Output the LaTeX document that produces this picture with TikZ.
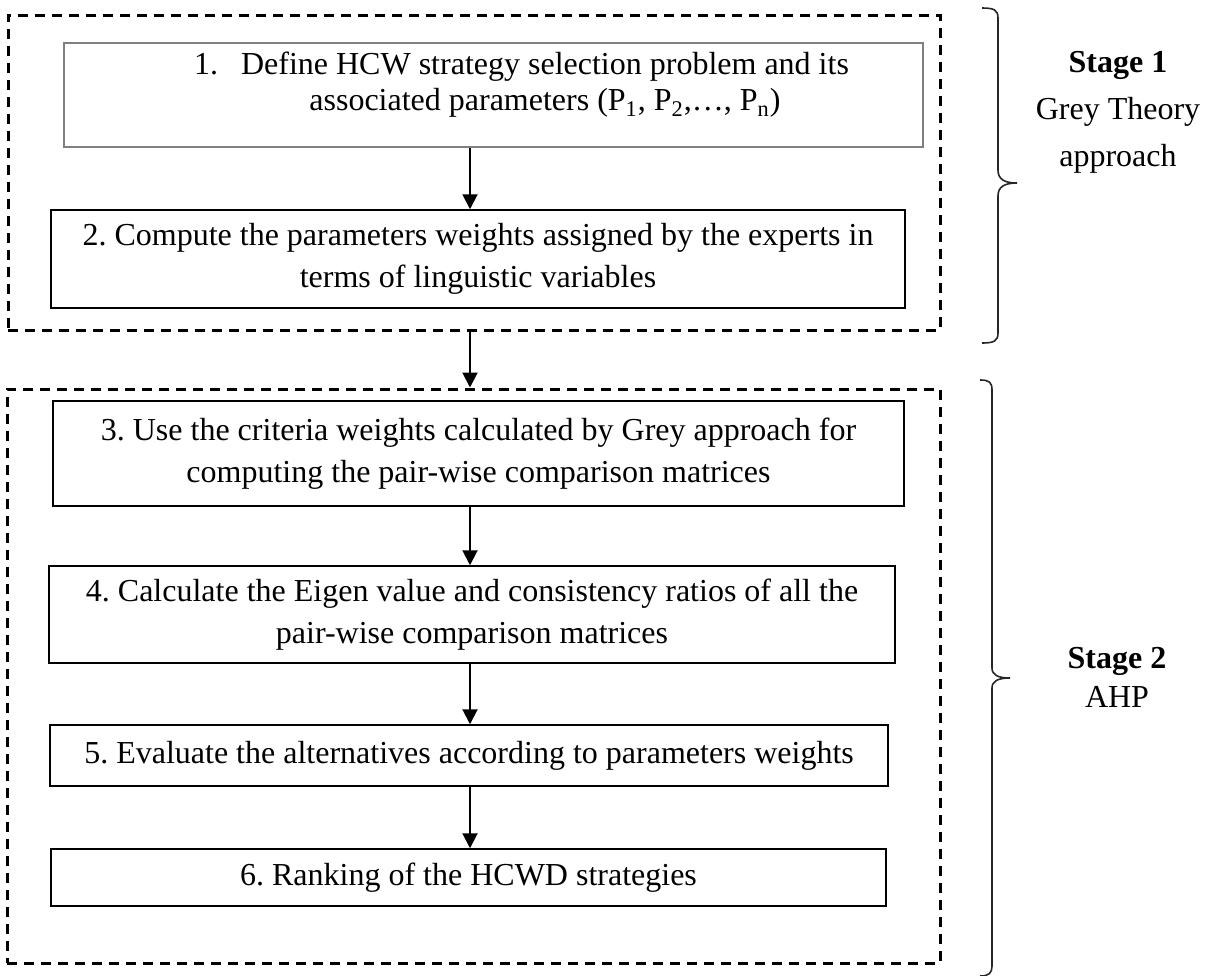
\documentclass[tikz,border=0pt]{standalone}
\usepackage{fontspec}
\setmainfont{Liberation Serif}
\usetikzlibrary{arrows.meta}
\begin{document}
\frenchspacing
\begin{tikzpicture}[x=0.5pt,y=-0.5pt,
  stepbox/.style={draw=black, line width=0.75pt, rectangle, inner sep=0pt,
    font=\fontsize{16pt}{20.85pt}\selectfont, align=center},
  greybox/.style={draw=black!50, line width=1pt, rectangle, inner sep=0pt},
  steptext/.style={inner sep=0pt, font=\fontsize{16pt}{18pt}\selectfont, align=center},
  stagebox/.style={draw=black, line width=1.5pt, dash pattern=on 5pt off 3.5pt,
    rectangle, inner sep=0pt},
  arr/.style={line width=1pt, -{Triangle[width=7.5pt,length=7.5pt]}},
  bracket/.style={line width=0.8pt, draw=black!85},
  stagetxt/.style={inner sep=0pt, align=center},
]
\useasboundingbox (0,0) rectangle (1219,975);

% stage frames
\node[stagebox, minimum width=466pt, minimum height=157.5pt] (s1) at (474,172.5) {};
\node[stagebox, minimum width=466.5pt, minimum height=287pt] (s2) at (473.5,676) {};

% stage 1 steps
\node[greybox, minimum width=429.5pt, minimum height=52pt] (b1) at (493.5,95) {};
\node[steptext] (t1) at (545,85)
  {\llap{1.\hspace{11.5pt}}Define HCW strategy selection problem and its\\
   associated parameters (P\textsubscript{1}, P\textsubscript{2},…, P\textsubscript{n})};
\node[stepbox, minimum width=427pt, minimum height=49pt] (b2) at (478,259)
  {2. Compute the parameters weights assigned by the experts in\\
   terms of linguistic variables};

% stage 2 steps
\node[stepbox, minimum width=425.5pt, minimum height=52.5pt] (b3) at (478.5,453.5)
  {3. Use the criteria weights calculated by Grey approach for\\
   computing the pair-wise comparison matrices};
\node[stepbox, minimum width=423pt, minimum height=48.5pt] (b4) at (472,614.5)
  {4. Calculate the Eigen value and consistency ratios of all the\\
   pair-wise comparison matrices};
\node[stepbox, minimum width=419pt, minimum height=30.5pt] (b5) at (469,755.5)
  {5. Evaluate the alternatives according to parameters weights};
\node[stepbox, minimum width=417.5pt, minimum height=28.5pt] (b6) at (468.5,877.5)
  {6. Ranking of the HCWD strategies};

% flow arrows
\draw[arr] (470,0 |- b1.south) -- (470,0 |- b2.north);
\draw[arr] (470,0 |- s1.south) -- (470,0 |- s2.north);
\draw[arr] (470,0 |- b3.south) -- (470,0 |- b4.north);
\draw[arr] (470,0 |- b4.south) -- (470,0 |- b5.north);
\draw[arr] (470,0 |- b5.south) -- (470,0 |- b6.north);

% right-hand braces
\draw[bracket] (982,8) .. controls (994,8) and (998,10) .. (998,18) -- (998,170)
  .. controls (998,179) and (1004,183) .. (1017,183)
  .. controls (1004,183) and (998,187) .. (998,196) -- (998,333)
  .. controls (998,341) and (994,343) .. (982,343);
\draw[bracket] (980,380) .. controls (989,380) and (992,382) .. (992,390) -- (992,668)
  .. controls (992,675) and (998,678) .. (1010,678)
  .. controls (998,678) and (992,681) .. (992,688) -- (992,966)
  .. controls (992,973) and (989,976) .. (980,976);

% stage labels
\node[stagetxt, font=\fontsize{16pt}{23.5pt}\selectfont] (l1) at (1118,112.75)
  {\textbf{Stage 1}\\Grey Theory\\approach};
\node[stagetxt, font=\fontsize{16pt}{19.5pt}\selectfont] (l2) at (1117,677)
  {\textbf{Stage 2}\\AHP};
\end{tikzpicture}
\end{document}
